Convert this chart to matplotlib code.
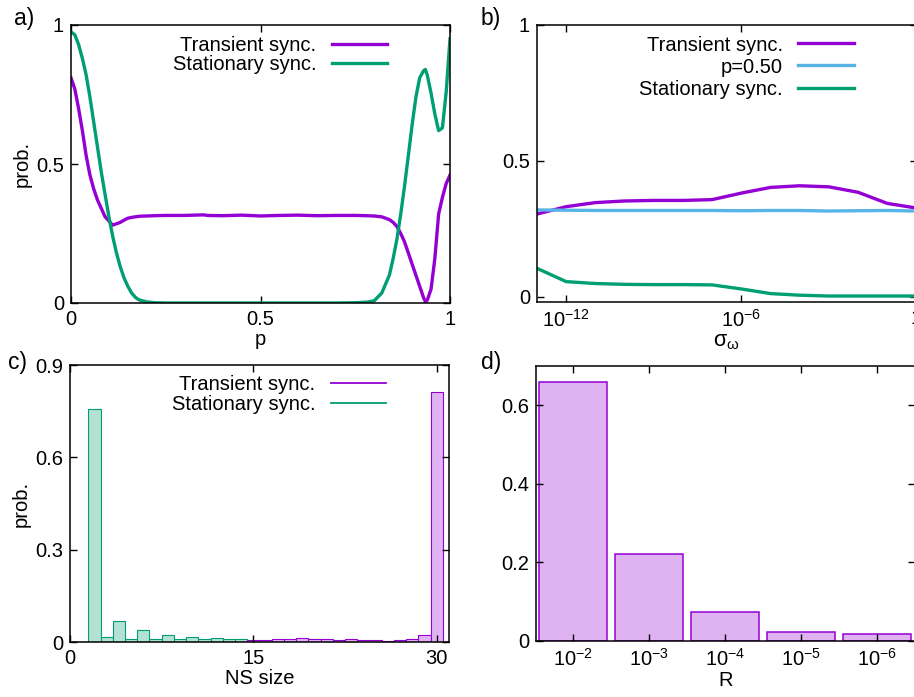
import matplotlib
matplotlib.use("Agg")
import matplotlib.pyplot as plt
import numpy as np
from matplotlib.lines import Line2D
from matplotlib.ticker import NullLocator


plt.rcParams["font.family"] = ["Liberation Sans", "DejaVu Sans"]
plt.rcParams["mathtext.fontset"] = "custom"
plt.rcParams["mathtext.rm"] = "Liberation Sans"
plt.rcParams["mathtext.it"] = "Liberation Sans:italic"
plt.rcParams["mathtext.sf"] = "Liberation Sans"


# ==================================================
# DATA
# ==================================================

# panel a: probability vs rewiring p
p_vals = [0.0, 0.01, 0.02, 0.03, 0.04, 0.05, 0.06, 0.07, 0.08, 0.09,
          0.10, 0.11, 0.12, 0.13, 0.14, 0.15, 0.16, 0.17, 0.18, 0.20,
          0.22, 0.25, 0.30, 0.35, 0.36, 0.40, 0.45, 0.50, 0.55, 0.60,
          0.65, 0.70, 0.75, 0.78, 0.80, 0.82, 0.84, 0.85, 0.86, 0.87,
          0.88, 0.89, 0.90, 0.91, 0.92, 0.93, 0.935, 0.94, 0.95, 0.96,
          0.97, 0.98, 0.99, 1.0]
transient_a = [0.81, 0.77, 0.70, 0.62, 0.53, 0.46, 0.41, 0.37, 0.34, 0.31,
               0.295, 0.28, 0.285, 0.29, 0.298, 0.305, 0.308, 0.31, 0.312, 0.313,
               0.314, 0.315, 0.315, 0.317, 0.315, 0.314, 0.316, 0.313, 0.315, 0.316,
               0.314, 0.315, 0.315, 0.314, 0.313, 0.31, 0.30, 0.29, 0.275, 0.25,
               0.22, 0.18, 0.14, 0.10, 0.06, 0.02, 0.005, 0.01, 0.05, 0.16,
               0.32, 0.38, 0.43, 0.46]
stationary_a = [0.975, 0.965, 0.93, 0.88, 0.82, 0.74, 0.65, 0.56, 0.47, 0.39,
                0.31, 0.24, 0.18, 0.13, 0.09, 0.06, 0.036, 0.02, 0.011, 0.004,
                0.001, 0.0, 0.0, 0.0, 0.0, 0.0, 0.0, 0.0, 0.0, 0.0,
                0.0, 0.0, 0.001, 0.003, 0.008, 0.036, 0.10, 0.16, 0.23, 0.32,
                0.42, 0.53, 0.64, 0.74, 0.81, 0.835, 0.84, 0.82, 0.755, 0.68,
                0.62, 0.63, 0.76, 0.95]

# panel b: probability vs sigma_omega
sigma_vals = [1e-13, 1e-12, 1e-11, 1e-10, 1e-9, 1e-8, 1e-7,
              1e-6, 1e-5, 1e-4, 1e-3, 1e-2, 1e-1, 1e0]
transient_b = [0.304, 0.331, 0.346, 0.352, 0.354, 0.354, 0.357,
               0.381, 0.402, 0.408, 0.404, 0.384, 0.343, 0.326]
p050_b = [0.319, 0.318, 0.317, 0.317, 0.317, 0.317, 0.317,
          0.316, 0.317, 0.317, 0.315, 0.316, 0.317, 0.315]
stationary_b = [0.104, 0.055, 0.048, 0.045, 0.044, 0.044, 0.043,
                0.028, 0.011, 0.005, 0.002, 0.002, 0.002, 0.002]

# panel c: NS size histograms
ns_size = np.arange(0, 31)
stationary_c = [0.0, 0.0, 0.756, 0.015, 0.067, 0.009, 0.038, 0.009, 0.022, 0.009,
                0.017, 0.009, 0.013, 0.009, 0.011, 0.0, 0.0, 0.0, 0.0, 0.0,
                0.0, 0.0, 0.0, 0.0, 0.0, 0.0, 0.0, 0.0, 0.0, 0.0, 0.0]
transient_c = [0.0, 0.0, 0.0, 0.0, 0.0, 0.0, 0.0, 0.0, 0.0, 0.0,
               0.0, 0.0, 0.0, 0.0, 0.0, 0.005, 0.007, 0.010, 0.010, 0.014,
               0.010, 0.011, 0.008, 0.011, 0.008, 0.007, 0.003, 0.008, 0.011, 0.024,
               0.811]

# panel d: probability vs R
r_labels = ["$10^{-2}$", "$10^{-3}$", "$10^{-4}$", "$10^{-5}$", "$10^{-6}$"]
r_prob = [0.660, 0.222, 0.0735, 0.024, 0.017]


# ==================================================
# STYLE
# ==================================================

PURPLE = "#9400d3"
GREEN = "#009e73"
CYAN = "#56b4e9"
PURPLE_FILL = "#dfb3f2"
GREEN_FILL = "#b3e2d5"

FS = 14.5
W, H = 914, 697


def box(left, top, right, bottom):
    return [left / W, 1 - bottom / H, (right - left) / W, (bottom - top) / H]


def style_axes(ax):
    ax.tick_params(direction="in", top=True, right=True,
                   length=5, width=1, labelsize=FS, pad=5)
    for s in ax.spines.values():
        s.set_linewidth(1.1)


def add_legend(ax, y_top, spacing, handles=None, labels=None):
    kw = dict(loc="upper right", bbox_to_anchor=(0.834, y_top),
              frameon=False, markerfirst=False, fontsize=FS,
              handlelength=2.75, handletextpad=0.75, labelspacing=spacing,
              borderpad=0, borderaxespad=0)
    if handles is None:
        return ax.legend(**kw)
    return ax.legend(handles, labels, **kw)


fig = plt.figure(figsize=(W / 100, H / 100), dpi=100)


# ==================================================
# PANEL A
# ==================================================

ax_a = fig.add_axes(box(71, 25, 450, 303))
ax_a.plot(p_vals, transient_a, color=PURPLE, lw=2.4, label="Transient sync.")
ax_a.plot(p_vals, stationary_a, color=GREEN, lw=2.4, label="Stationary sync.")
ax_a.set_xlim(0, 1)
ax_a.set_ylim(0, 1)
ax_a.set_xticks([0, 0.5, 1])
ax_a.set_xticklabels(["0", "0.5", "1"])
ax_a.set_yticks([0, 0.5, 1])
ax_a.set_yticklabels(["0", "0.5", "1"])
ax_a.set_xlabel("p", fontsize=FS, labelpad=1)
ax_a.set_ylabel("prob.", fontsize=FS, labelpad=3)
style_axes(ax_a)
add_legend(ax_a, 0.962, 0.03)


# ==================================================
# PANEL B
# ==================================================

ax_b = fig.add_axes(box(537, 25, 916.5, 302))
ax_b.plot(sigma_vals, transient_b, color=PURPLE, lw=2.4, label="Transient sync.")
ax_b.plot(sigma_vals, p050_b, color=CYAN, lw=2.4, label="p=0.50")
ax_b.plot(sigma_vals, stationary_b, color=GREEN, lw=2.4, label="Stationary sync.")
ax_b.set_xscale("log")
ax_b.set_xlim(1e-13, 1e0)
ax_b.set_ylim(-0.02, 1)
ax_b.set_xticks([1e-12, 1e-6, 1e0])
ax_b.set_xticklabels(["$10^{-12}$", "$10^{-6}$", "1"])
ax_b.xaxis.set_minor_locator(NullLocator())
ax_b.set_yticks([0, 0.5, 1])
ax_b.set_yticklabels(["0", "0.5", "1"])
ax_b.set_xlabel(r"$\mathrm{σ}_{\mathrm{ω}}$", fontsize=FS + 1, labelpad=0)
style_axes(ax_b)
add_legend(ax_b, 0.962, 0.15)


# ==================================================
# PANEL C
# ==================================================

ax_c = fig.add_axes(box(70, 365, 449, 642))
ax_c.bar(ns_size, stationary_c, width=1.0, color=GREEN_FILL,
         edgecolor=GREEN, linewidth=0.8)
ax_c.bar(ns_size, transient_c, width=1.0, color=PURPLE_FILL,
         edgecolor=PURPLE, linewidth=0.8)
ax_c.set_xlim(0, 31)
ax_c.set_ylim(0, 0.9)
ax_c.set_xticks([0, 15, 30])
ax_c.set_xticklabels(["0", "15", "30"])
ax_c.set_yticks([0, 0.3, 0.6, 0.9])
ax_c.set_yticklabels(["0", "0.3", "0.6", "0.9"])
ax_c.set_xlabel("NS size", fontsize=FS, labelpad=1)
ax_c.set_ylabel("prob.", fontsize=FS, labelpad=3)
style_axes(ax_c)
handles_c = [Line2D([], [], color=PURPLE, lw=1.3),
             Line2D([], [], color=GREEN, lw=1.3)]
add_legend(ax_c, 0.965, 0.08, handles_c, ["Transient sync.", "Stationary sync."])


# ==================================================
# PANEL D
# ==================================================

ax_d = fig.add_axes(box(536, 366, 915, 641))
x_d = np.arange(len(r_prob))
ax_d.bar(x_d, r_prob, width=0.9, color=PURPLE_FILL,
         edgecolor=PURPLE, linewidth=1.1)
ax_d.set_xlim(-0.49, 4.5)
ax_d.set_ylim(0, 0.7)
ax_d.set_xticks(x_d)
ax_d.set_xticklabels(r_labels)
ax_d.set_yticks([0, 0.2, 0.4, 0.6])
ax_d.set_yticklabels(["0", "0.2", "0.4", "0.6"])
ax_d.set_xlabel("R", fontsize=FS, labelpad=1)
style_axes(ax_d)


# ==================================================
# PANEL LABELS
# ==================================================

for lab, (x, y) in {"a)": (14, 18), "b)": (481, 18),
                    "c)": (8, 362), "d)": (481, 362)}.items():
    fig.text(x / W, 1 - y / H, lab, fontsize=FS + 2, va="center", ha="left")

fig.savefig("out.png", dpi=100)
